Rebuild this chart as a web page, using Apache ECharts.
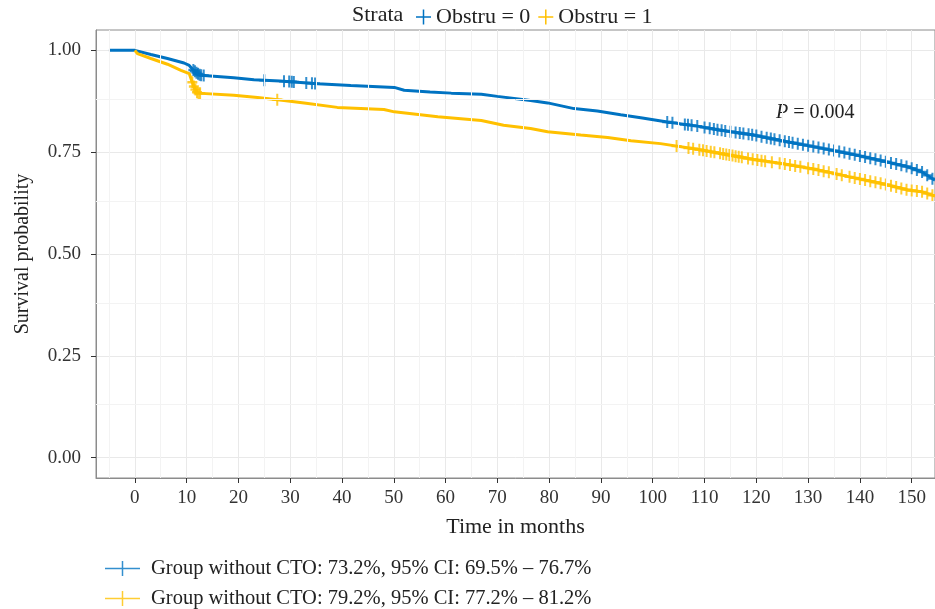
<!DOCTYPE html>
<html>
<head>
<meta charset="utf-8">
<script src="https://cdn.jsdelivr.net/npm/echarts@6/dist/echarts.min.js"></script>
<style>html,body{margin:0;padding:0;background:#fff}#c{width:935px;height:609px}</style>
</head>
<body>
<div id="c"></div>
<script>
// ---- data ----
const time0 = [-5, 0, 3.1, 6.3, 9.5, 10.5, 11.2, 12.1, 12.7, 19.1, 23, 28, 35.3, 41.7, 50.1, 52, 57, 61.1, 66.9, 70, 76.4, 79.7, 84.8, 89.3, 93.8, 98, 102.8, 108.6, 113.1, 119.5, 124.9, 131.3, 137.8, 144.2, 149.3, 151.9, 154.5];
const surv0 = [1.000, 1.000, 0.990, 0.980, 0.969, 0.963, 0.953, 0.943, 0.939, 0.933, 0.928, 0.925, 0.918, 0.914, 0.909, 0.902, 0.898, 0.895, 0.892, 0.887, 0.877, 0.871, 0.857, 0.851, 0.842, 0.834, 0.824, 0.814, 0.804, 0.792, 0.778, 0.763, 0.747, 0.729, 0.714, 0.702, 0.681];
const time1 = [0, 0.5, 3.1, 6.3, 8.9, 10.5, 11.0, 11.5, 12.1, 19.1, 23.7, 28.8, 32.7, 39.1, 48.1, 50.1, 58.5, 66.9, 71.2, 76.4, 79.7, 86.1, 91.3, 95.8, 101.5, 108.6, 113.1, 119.5, 124.9, 131.3, 137.8, 144.2, 149.3, 151.9, 154.5];
const surv1 = [1.000, 0.992, 0.980, 0.966, 0.951, 0.943, 0.925, 0.908, 0.895, 0.890, 0.884, 0.877, 0.871, 0.860, 0.855, 0.849, 0.837, 0.828, 0.816, 0.808, 0.800, 0.792, 0.786, 0.778, 0.771, 0.757, 0.747, 0.732, 0.722, 0.708, 0.690, 0.673, 0.657, 0.653, 0.642];
const censor0 = [11.3, 11.6, 11.9, 12.2, 12.5, 12.8, 13.3, 25, 28.8, 29.8, 30.3, 30.7, 33.1, 34.2, 34.8, 102.8, 103.8, 106.2, 106.8, 107.5, 108.6, 110, 111, 111.8, 112.5, 113.3, 114, 115, 116, 116.8, 117.5, 118.5, 119.2, 120, 121, 122, 122.8, 123.5, 124.5, 125.5, 126.3, 127, 128, 129, 130, 131, 132, 133, 134, 135, 136, 137, 138, 139, 140, 141, 142, 143, 144, 145, 146, 147, 148, 149, 150, 151, 152, 153, 154];
const censor1 = [11.1, 11.4, 11.7, 12.0, 12.3, 12.6, 27.5, 104.6, 106.9, 107.8, 109, 109.7, 110.4, 111.2, 111.9, 113, 113.6, 114.2, 114.8, 115.4, 116, 116.6, 117.2, 118.4, 119.3, 120.2, 121, 121.7, 123, 124.5, 125.5, 126.5, 127.5, 128.5, 130, 131, 132, 133, 134, 135.5, 136.5, 138, 139, 140, 141, 142, 143, 144, 145, 146, 147, 148, 149, 150, 151, 152, 153, 154];
const xTicks = [0, 10, 20, 30, 40, 50, 60, 70, 80, 90, 100, 110, 120, 130, 140, 150];
const yTicks = [0, 0.25, 0.5, 0.75, 1.0];
const xMinor = [-5, 5, 15, 25, 35, 45, 55, 65, 75, 85, 95, 105, 115, 125, 135, 145];
const yMinor = [0.125, 0.375, 0.625, 0.875];
const stratNames = ['Obstru = 0', 'Obstru = 1'];
const groupNames = ['Group without CTO: 73.2%, 95% CI: 69.5% – 76.7%', 'Group without CTO: 79.2%, 95% CI: 77.2% – 81.2%'];
const pText = '0.004';

// ---- helpers ----
const C0 = '#0073C2', C1 = '#FFC000';
function pairs(t, s) { return t.map((v, i) => [v, s[i]]); }
// y of the drawn curve at x (so a censor mark sits on the line)
function onCurve(t, s, x) {
  for (let i = 1; i < t.length; i++) {
    if (x <= t[i]) { const f = (x - t[i - 1]) / (t[i] - t[i - 1]); return s[i - 1] + f * (s[i] - s[i - 1]); }
  }
  return s[s.length - 1];
}
function censorPts(c, t, s) { return c.map(x => [x, onCurve(t, s, x)]); }
const plus = 'path://M4,0H6V4H10V6H6V10H4V6H0V4H4Z';
const plusThin = 'path://M6.75,0H8.25V6.75H15V8.25H8.25V15H6.75V8.25H0V6.75H6.75Z';
const lineCross = 'path://M0,6.75H16.75V0H18.25V6.75H35V8.25H18.25V15H16.75V8.25H0Z';
const FONT = 'Liberation Serif';

const chart = echarts.init(document.getElementById('c'), null, { renderer: 'canvas' });
const minorLines = xMinor.map(v => ({ xAxis: v })).concat(yMinor.map(v => ({ yAxis: v })));
const topText = { fontFamily: FONT, fontSize: 22, color: '#222' };
const botText = { fontFamily: FONT, fontSize: 20.5, color: '#222', padding: [0, 0, 0, 6] };

chart.setOption({
  animation: false,
  backgroundColor: '#fff',
  textStyle: { fontFamily: FONT },
  grid: { left: 96, right: 0, top: 30, bottom: 131, show: true, borderColor: '#8c8c8c', borderWidth: 1, backgroundColor: '#fff' },
  xAxis: {
    type: 'value', min: -7.5, max: 154.5,
    name: 'Time in months', nameLocation: 'middle', nameGap: 38,
    nameTextStyle: { fontFamily: FONT, fontSize: 22, color: '#222' },
    axisLine: { show: true, onZero: false, lineStyle: { color: '#8c8c8c' } },
    axisTick: { show: true, length: 5, customValues: xTicks, lineStyle: { color: '#333' } },
    axisLabel: { customValues: xTicks, fontFamily: FONT, fontSize: 19, color: '#333', margin: 11 },
    splitLine: { show: true, lineStyle: { color: '#e9e9e9', width: 1 } }
  },
  yAxis: {
    type: 'value', min: -0.05, max: 1.05,
    name: 'Survival probability', nameLocation: 'middle', nameGap: 63, nameRotate: 90,
    nameTextStyle: { fontFamily: FONT, fontSize: 20, color: '#222' },
    axisLine: { show: true, onZero: false, lineStyle: { color: '#8c8c8c' } },
    axisTick: { show: true, length: 5, customValues: yTicks, lineStyle: { color: '#333' } },
    axisLabel: { customValues: yTicks, fontFamily: FONT, fontSize: 19, color: '#333', margin: 15, formatter: v => v.toFixed(2) },
    splitLine: { show: true, lineStyle: { color: '#e9e9e9', width: 1 } }
  },
  legend: [
    { data: stratNames, left: 411, top: 1, itemWidth: 15, itemHeight: 15, itemGap: 8, icon: plusThin, textStyle: topText, selectedMode: false },
    { data: [groupNames[0]], left: 100, top: 553, itemWidth: 35, itemHeight: 15, icon: lineCross, textStyle: botText, selectedMode: false },
    { data: [groupNames[1]], left: 100, top: 583, itemWidth: 35, itemHeight: 15, icon: lineCross, textStyle: botText, selectedMode: false }
  ],
  graphic: [
    { type: 'text', left: 352, top: 4, style: { text: 'Strata', font: '22px "Liberation Serif"', fill: '#222' } },
    { type: 'text', left: 776, top: 103, style: { text: '{i|P} = ' + pText, rich: { i: { fontStyle: 'italic', fontFamily: FONT, fontSize: 20, fill: '#222' } }, font: '20px "Liberation Serif"', fill: '#222' } }
  ],
  series: [
    { type: 'line', data: [], z: 1, silent: true,
      markLine: { silent: true, symbol: 'none', label: { show: false }, animation: false, lineStyle: { color: '#f3f3f3', type: 'solid', width: 1 }, data: minorLines } },
    { name: stratNames[0], type: 'line', data: pairs(time0, surv0), showSymbol: false, color: C0, lineStyle: { width: 3, color: C0 }, z: 3 },
    { name: stratNames[1], type: 'line', data: pairs(time1, surv1), showSymbol: false, color: C1, lineStyle: { width: 3, color: C1 }, z: 3 },
    { name: groupNames[0], type: 'scatter', data: censorPts(censor0, time0, surv0), symbol: plus, symbolSize: [10, 12], itemStyle: { color: C0 }, z: 4 },
    { name: groupNames[1], type: 'scatter', data: censorPts(censor1, time1, surv1), symbol: plus, symbolSize: [10, 12], itemStyle: { color: C1 }, z: 4 }
  ]
});
</script>
</body>
</html>
